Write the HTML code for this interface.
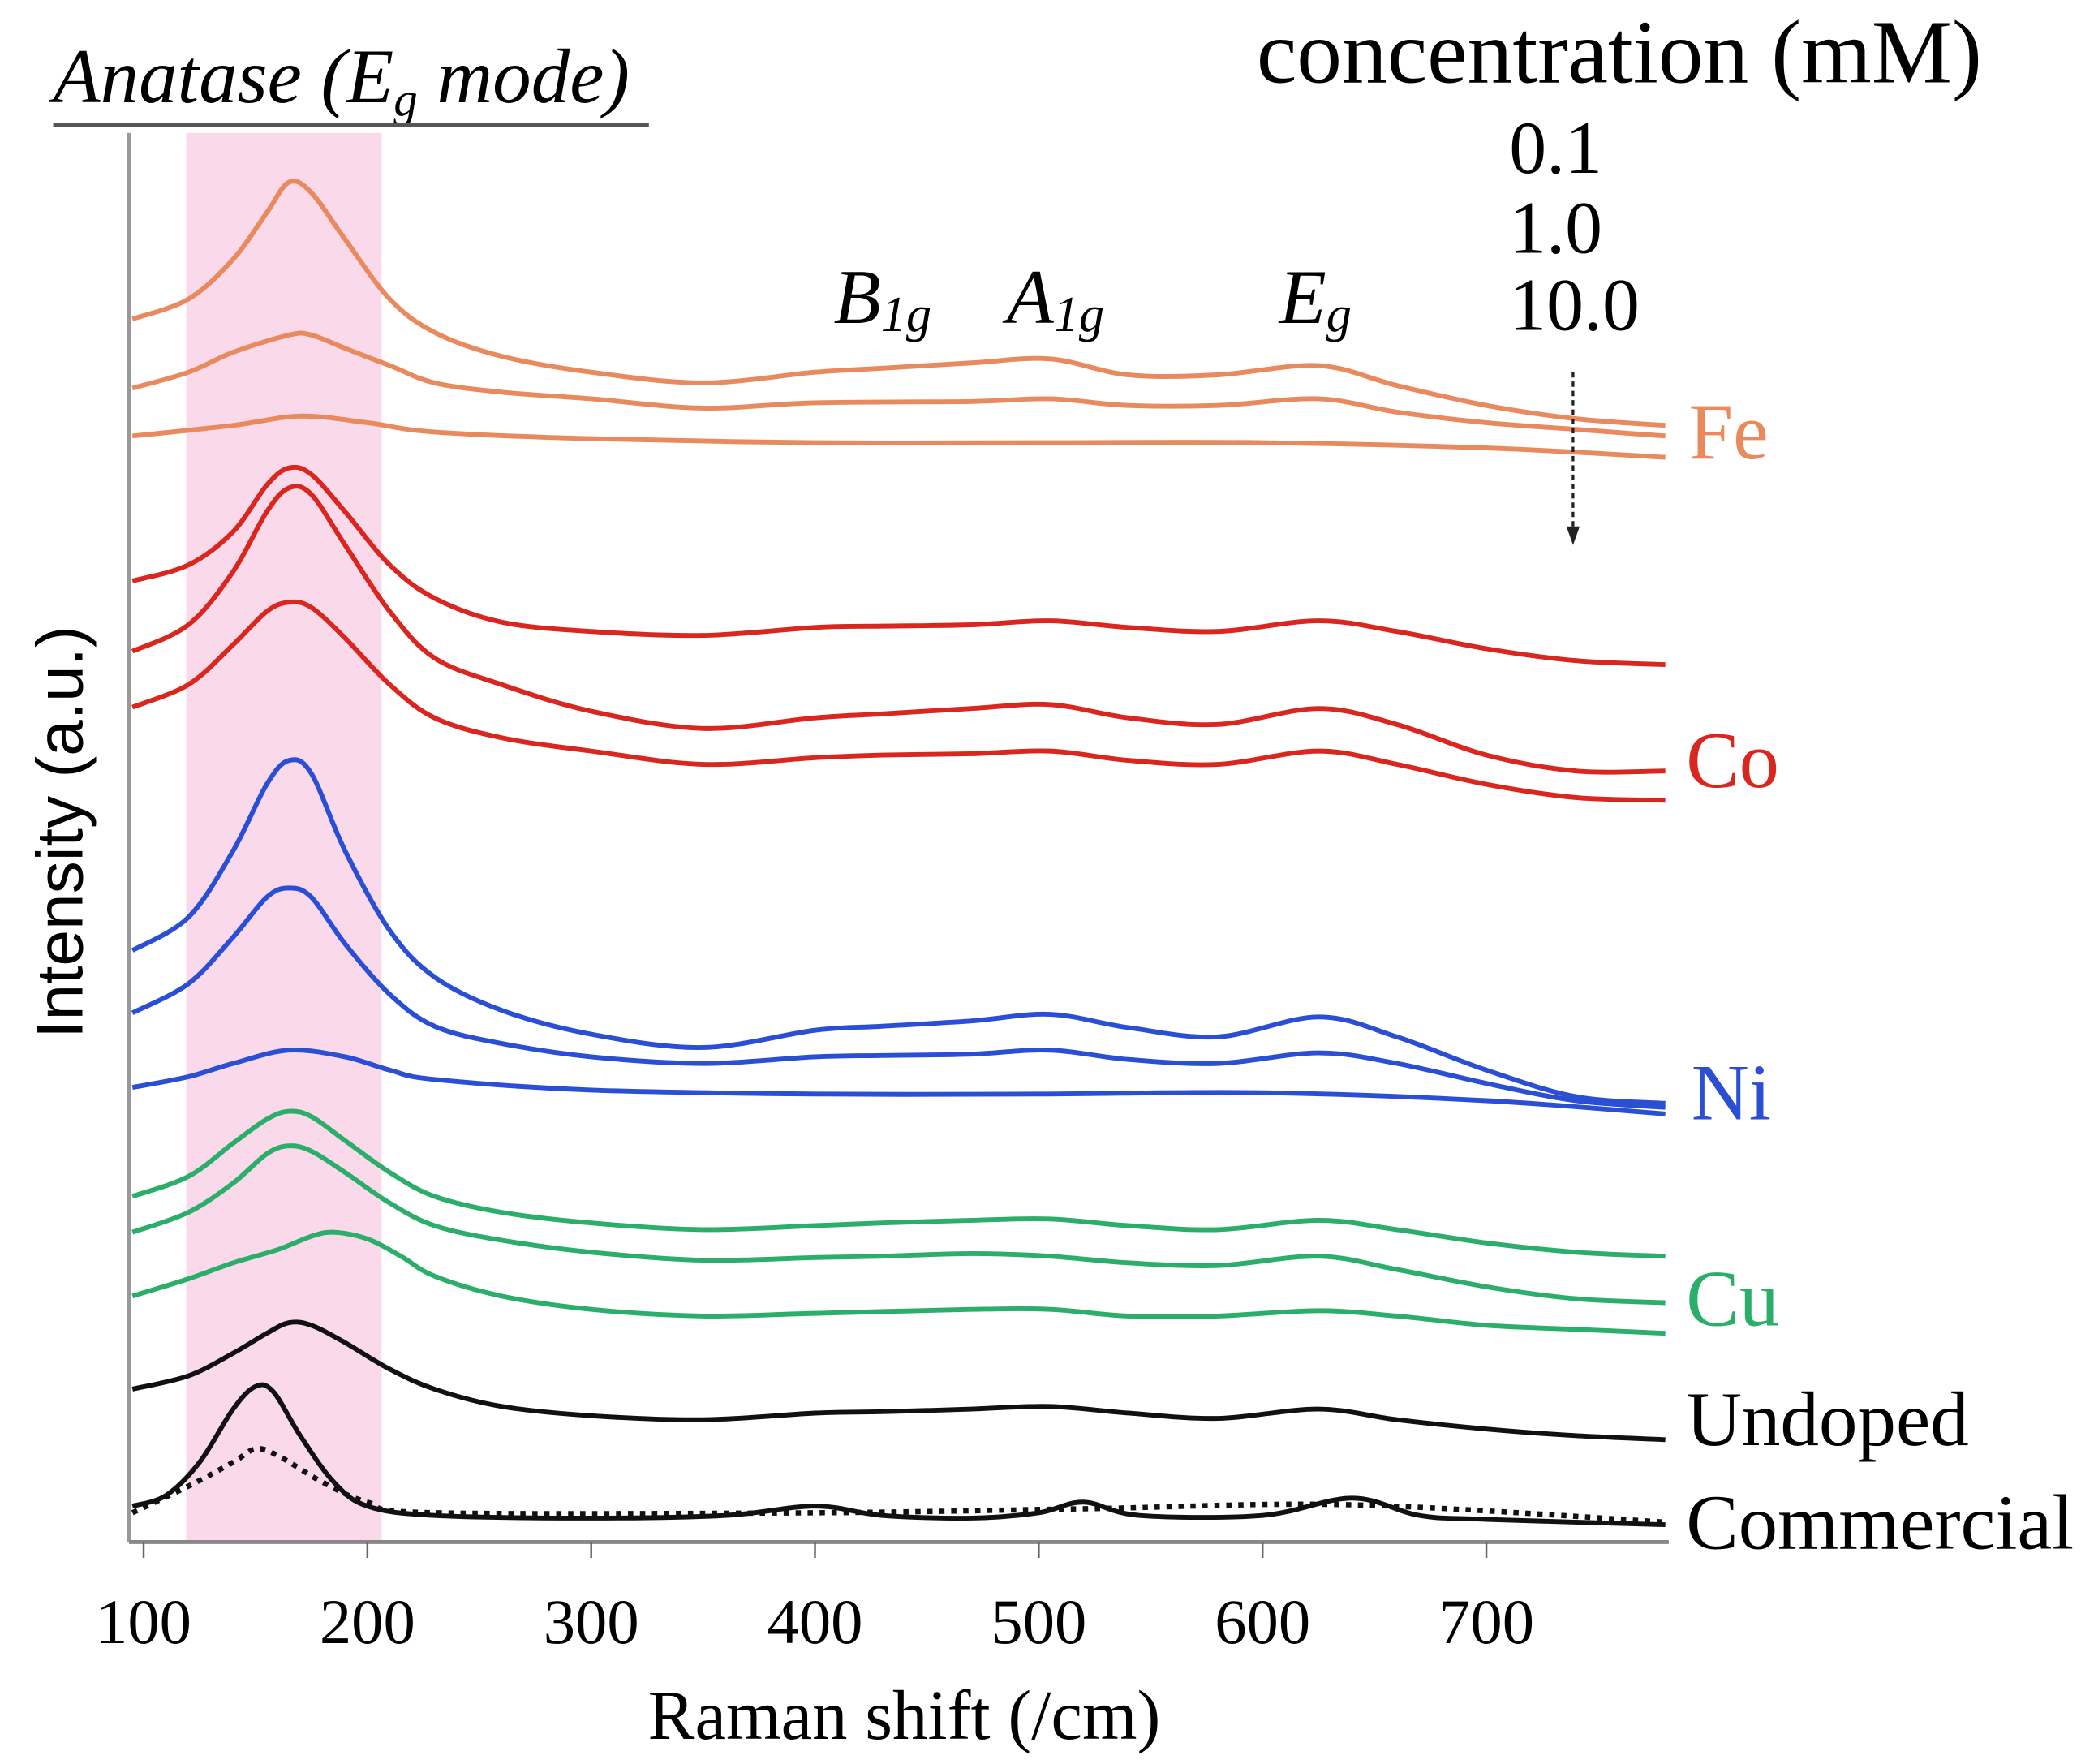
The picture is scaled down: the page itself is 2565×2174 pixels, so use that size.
<!DOCTYPE html>
<html><head><meta charset="utf-8"><style>
html,body{margin:0;padding:0;background:#fff;}
svg{display:block;}
text{font-family:"Liberation Serif",serif;}
</style></head><body>
<svg id="chart" width="2565" height="2174" viewBox="0 0 1565 1327" preserveAspectRatio="none" xmlns="http://www.w3.org/2000/svg">
<rect x="140" y="100" width="147" height="1060" fill="#f9d9ea"/>
<line x1="97" y1="100" x2="97" y2="1160" stroke="#999" stroke-width="3"/>
<line x1="97" y1="1160" x2="1255" y2="1160" stroke="#888" stroke-width="3"/>
<g id="ticks"></g>
<g id="series"></g>
<text x="680" y="1308" font-size="53" text-anchor="middle">Raman shift (/cm)</text>
<text transform="translate(62,626) rotate(-90)" font-size="49" text-anchor="middle" style="font-family:'Liberation Sans',sans-serif">Intensity (a.u.)</text>
<text x="40" y="77" font-size="58" font-style="italic">Anatase (E<tspan font-size="36" dy="10">g</tspan><tspan dy="-10"> mode)</tspan></text>
<line x1="40" y1="94" x2="488" y2="94" stroke="#555" stroke-width="3"/>
<text x="945" y="62" font-size="68">concentration (mM)</text>
<text x="1135" y="130" font-size="56">0.1</text>
<text x="1135" y="190" font-size="56">1.0</text>
<text x="1135" y="248" font-size="56">10.0</text>
<line x1="1183" y1="280" x2="1183" y2="398" stroke="#222" stroke-width="2" stroke-dasharray="4,3"/>
<polygon points="1178,396 1188,396 1183,410" fill="#222"/>
<text x="627" y="243" font-size="58" font-style="italic">B<tspan font-size="38" dy="6">1g</tspan></text>
<text x="757" y="243" font-size="58" font-style="italic">A<tspan font-size="38" dy="6">1g</tspan></text>
<text x="962" y="243" font-size="58" font-style="italic">E<tspan font-size="38" dy="6">g</tspan></text>
<text x="1270" y="345" font-size="60" fill="#e9895e">Fe</text>
<text x="1268" y="592" font-size="60" fill="#d9261f">Co</text>
<text x="1272" y="842" font-size="60" fill="#2a4fd4">Ni</text>
<text x="1268" y="997" font-size="60" fill="#2aae6a">Cu</text>
<text x="1268" y="1087" font-size="58">Undoped</text>
<text x="1268" y="1165" font-size="59">Commercial</text>
</svg>
<script>
const xTicks = [100,200,300,400,500,600,700];
const X = [95,120,140,155,165,175,190,210,230,260,300,350,400,430,470,505,540,580,625,660,700,740,780];
const fe1 = [920,935,965,1000,1023,1015,980,935,910,892,880,872,880,883,887,890,878,878,885,870,855,845,840];
const fe2x = [95,120,140,165,175,190,210,230,260,300,350,400,470,505,540,580,625,660,700,740,780];
const fe2 = [868,880,895,908,908,898,885,872,865,860,853,857,858,860,855,855,860,850,842,837,832];
const fe3x = [95,140,170,200,230,300,400,500,600,700,780];
const fe3 = [832,840,847,842,835,830,827,827,827,823,816];
const co1 = [723,735,760,795,808,803,775,735,710,692,685,682,688,689,690,693,688,685,693,685,672,663,660];
const co2 = [670,690,730,775,793,788,750,700,665,645,625,612,620,623,627,630,620,615,627,615,592,580,580];
const co3 = [628,645,675,700,707,703,680,645,620,605,595,585,590,592,593,595,588,585,595,585,570,560,558];
const ni1 = [445,470,520,570,588,578,520,460,425,400,382,372,385,388,392,397,387,380,395,380,355,335,330];
const ni2 = [398,420,455,485,492,485,450,412,388,375,365,360,365,366,367,370,363,360,368,360,345,332,327];
const ni3x = [95,120,140,165,190,210,230,300,400,500,600,700,780];
const ni3 = [342,350,360,370,365,355,348,340,337,337,338,332,322];
const cu1 = [260,275,300,318,324,320,302,278,260,248,240,235,238,240,242,243,238,235,242,235,225,218,215];
const cu2 = [233,248,270,292,298,294,278,255,238,227,218,212,214,215,217,215,210,208,215,205,192,183,180];
const cu3x = [95,120,140,160,175,185,200,215,230,260,300,350,400,470,505,540,580,625,660,700,740,780];
const cu3 = [185,198,210,220,230,233,228,215,200,185,175,170,172,175,175,170,170,174,170,163,160,157];
const undoped = [115,125,142,157,165,163,150,130,115,102,95,92,97,98,100,102,97,93,100,92,85,80,77];
const comx = [95,110,125,140,150,158,170,185,200,230,300,360,400,430,470,500,520,545,600,640,670,700,780];
const com = [27,35,60,100,117,113,80,45,27,20,18,20,27,20,18,22,30,20,20,33,20,17,13];
const comdx = [95,120,140,150,160,180,200,230,400,520,640,780];
const comd = [22,42,60,70,65,45,30,22,22,25,28,15];

const NS = 'http://www.w3.org/2000/svg';
function xs(v){ return 108 + (v-100)*1.683; }
function ys(v){ return 1160 - v; }
function pathFor(xa, ya){
  const p = xa.map((x,i)=>[xs(x), ys(ya[i])]);
  let d = 'M'+p[0][0].toFixed(1)+','+p[0][1].toFixed(1);
  for(let i=0;i<p.length-1;i++){
    const p0=p[Math.max(0,i-1)], p1=p[i], p2=p[i+1], p3=p[Math.min(p.length-1,i+2)];
    const c1=[p1[0]+(p2[0]-p0[0])/6, p1[1]+(p2[1]-p0[1])/6];
    const c2=[p2[0]-(p3[0]-p1[0])/6, p2[1]-(p3[1]-p1[1])/6];
    d+=' C'+c1[0].toFixed(1)+','+c1[1].toFixed(1)+' '+c2[0].toFixed(1)+','+c2[1].toFixed(1)+' '+p2[0].toFixed(1)+','+p2[1].toFixed(1);
  }
  return d;
}
const g = document.getElementById('series');
function addLine(name, xa, ya, color, dash){
  const el = document.createElementNS(NS,'path');
  el.setAttribute('d', pathFor(xa, ya));
  el.setAttribute('fill','none');
  el.setAttribute('stroke', color);
  el.setAttribute('stroke-width', dash ? '4' : '3.6');
  if(dash) el.setAttribute('stroke-dasharray', dash);
  
  
  g.appendChild(el);
}
const FE='#e9895e', CO='#d9261f', NI='#2a4fd4', CU='#2aae6a';
addLine('fe-0.1-spectrum', X, fe1, FE);
addLine('fe-1.0-spectrum', fe2x, fe2, FE);
addLine('fe-10.0-spectrum', fe3x, fe3, FE);
addLine('co-0.1-spectrum', X, co1, CO);
addLine('co-1.0-spectrum', X, co2, CO);
addLine('co-10.0-spectrum', X, co3, CO);
addLine('ni-0.1-spectrum', X, ni1, NI);
addLine('ni-1.0-spectrum', X, ni2, NI);
addLine('ni-10.0-spectrum', ni3x, ni3, NI);
addLine('cu-0.1-spectrum', X, cu1, CU);
addLine('cu-1.0-spectrum', X, cu2, CU);
addLine('cu-10.0-spectrum', cu3x, cu3, CU);
addLine('undoped-spectrum', X, undoped, '#111');
addLine('commercial-spectrum', comx, com, '#111');
addLine('commercial-dotted-spectrum', comdx, comd, '#111', '4,5');

const tg = document.getElementById('ticks');
xTicks.forEach(t=>{
  const l = document.createElementNS(NS,'line');
  l.setAttribute('x1', xs(t)); l.setAttribute('x2', xs(t));
  l.setAttribute('y1', 1160); l.setAttribute('y2', 1172);
  l.setAttribute('stroke','#666'); l.setAttribute('stroke-width','1.5');
  
  
  tg.appendChild(l);
  const tx = document.createElementNS(NS,'text');
  tx.setAttribute('x', xs(t)); tx.setAttribute('y', 1236);
  tx.setAttribute('font-size','48'); tx.setAttribute('text-anchor','middle');
  tx.textContent = t;
  
  
  tg.appendChild(tx);
});
</script>
</body></html>
